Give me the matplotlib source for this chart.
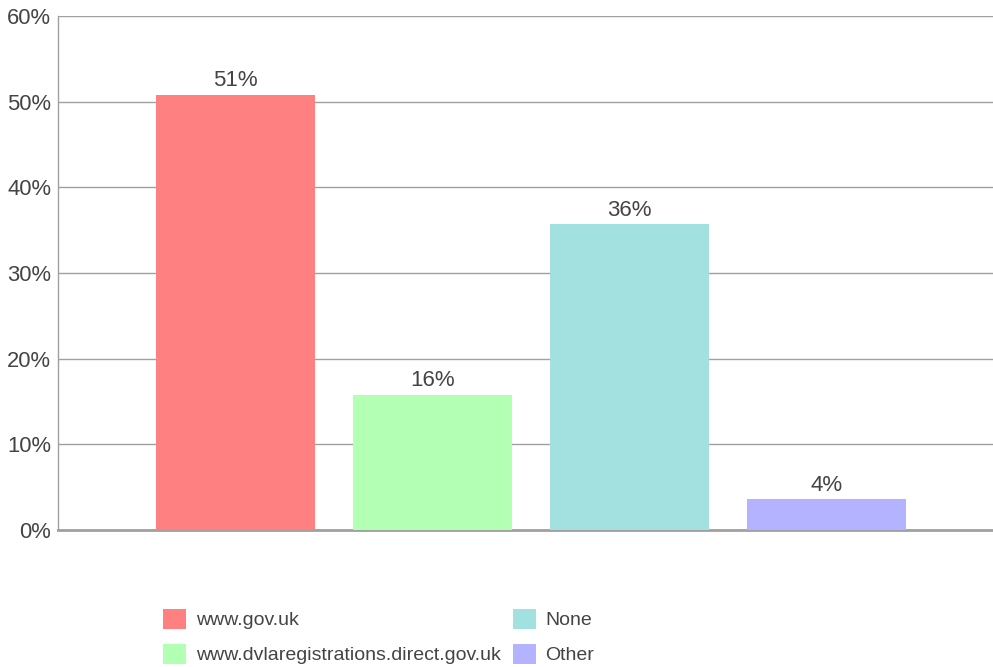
import matplotlib
matplotlib.use("Agg")
from matplotlib import pyplot as plt
from matplotlib.patches import Patch

plt.rcParams['font.family'] = ['Liberation Sans', 'DejaVu Sans']

# share of responses by site
sites = ['www.gov.uk', 'www.dvlaregistrations.direct.gov.uk', 'None', 'Other']
shares = [50.8, 15.8, 35.7, 3.6]
colors = ['#ff8080', '#b3ffb3', '#a3e0e0', '#b3b3ff']
yticks = [0, 10, 20, 30, 40, 50, 60]

text_col = '#444444'
grid_col = '#a0a0a0'

fig = plt.figure(figsize=(9.93, 6.67), dpi=100)
ax = fig.add_axes([58 / 993, 1 - 530 / 667, 1 - 58 / 993, (530 - 16) / 667])

x = list(range(len(sites)))
bars = ax.bar(x, shares, width=0.807, color=colors, zorder=3)

for b, v in zip(bars, shares):
    ax.text(b.get_x() + b.get_width() / 2, v + 0.4, '%.0f%%' % v,
            ha='center', va='bottom', fontsize=16, color=text_col, zorder=4)

ax.set_xlim(-0.901, 3.845)
ax.set_ylim(0, 60)
ax.set_yticks(yticks)
ax.set_yticklabels(['%d%%' % t for t in yticks], fontsize=15.8, color=text_col)
ax.set_xticks([])
ax.tick_params(axis='y', length=0, pad=5)

ax.grid(axis='y', color=grid_col, lw=1, zorder=0)
for s in ['top', 'right']:
    ax.spines[s].set_visible(False)
ax.spines['left'].set_color(grid_col)
ax.spines['left'].set_linewidth(1)
ax.spines['bottom'].set_color(grid_col)
ax.spines['bottom'].set_linewidth(2)

handles = [Patch(facecolor=c, edgecolor='none') for c in colors]
fig.legend(handles, sites, loc='upper left', ncol=2,
           bbox_to_anchor=(163 / 993, 1 - 609 / 667), frameon=False,
           fontsize=14, labelcolor=text_col, borderpad=0, borderaxespad=0,
           handlelength=1.18, handleheight=1.18, handletextpad=0.51,
           labelspacing=0.75, columnspacing=0.61)

plt.savefig('out.png', dpi=100)
